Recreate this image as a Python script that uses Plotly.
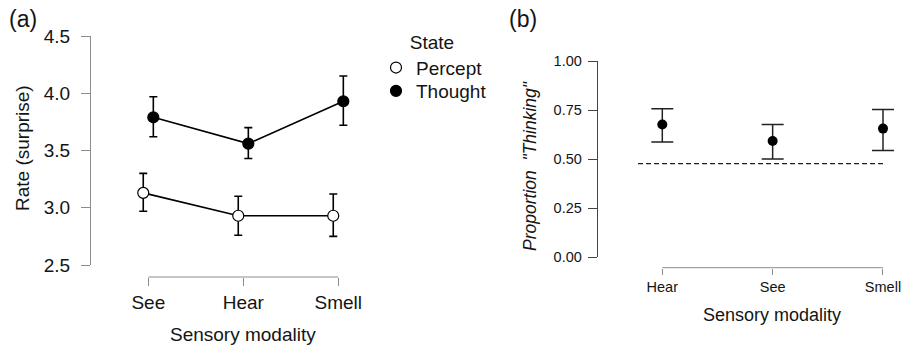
import plotly.graph_objects as go

# ---------------- data ----------------
modality_a = ["See", "Hear", "Smell"]
percept_mean = [3.13, 2.93, 2.93]
percept_lo = [2.97, 2.76, 2.75]
percept_hi = [3.30, 3.10, 3.12]
thought_mean = [3.79, 3.56, 3.93]
thought_lo = [3.62, 3.43, 3.72]
thought_hi = [3.97, 3.70, 4.15]
rate_ticks = [2.5, 3.0, 3.5, 4.0, 4.5]

modality_b = ["Hear", "See", "Smell"]
prop_mean = [0.676, 0.592, 0.655]
prop_lo = [0.587, 0.500, 0.544]
prop_hi = [0.757, 0.676, 0.753]
chance_level = 0.476
prop_ticks = [0.0, 0.25, 0.5, 0.75, 1.0]

# ---------------- helpers ----------------
W, H = 904, 346
FONT = "Liberation Sans, Arial, Helvetica, sans-serif"
TXT = "#141414"
GRAY = "#8c8c8c"


def px(x):
    return x / W


def py(y):
    return 1 - y / H


dodge = 0.053
xa = list(range(len(modality_a)))
xb = list(range(len(modality_b)))

fig = go.Figure()

# Panel (a)
def add_state(name, mean, lo, hi, off, fill, legend_id):
    xs = [i + off for i in xa]
    fig.add_trace(go.Scatter(
        x=xs, y=mean, mode="lines+markers", xaxis="x", yaxis="y",
        showlegend=False,
        line=dict(color="black", width=1.6),
        marker=dict(size=11, color=fill, line=dict(color="black", width=1.2)),
        error_y=dict(type="data", symmetric=False,
                     array=[h - m for h, m in zip(hi, mean)],
                     arrayminus=[m - l for m, l in zip(mean, lo)],
                     color="black", thickness=1.6, width=4),
    ))
    fig.add_trace(go.Scatter(
        x=[None], y=[None], mode="markers", xaxis="x", yaxis="y",
        name=name, showlegend=True, legend=legend_id,
        marker=dict(size=11, color=fill, line=dict(color="black", width=1.2)),
    ))

add_state("Percept", percept_mean, percept_lo, percept_hi, -dodge, "white", "legend")
add_state("Thought", thought_mean, thought_lo, thought_hi, dodge, "black", "legend2")

# Panel (b)
fig.add_trace(go.Scatter(
    x=xb, y=prop_mean, mode="markers", xaxis="x2", yaxis="y2", showlegend=False,
    marker=dict(size=10, color="black"),
    error_y=dict(type="data", symmetric=False,
                 array=[h - m for h, m in zip(prop_hi, prop_mean)],
                 arrayminus=[m - l for m, l in zip(prop_mean, prop_lo)],
                 color="#222", thickness=1.5, width=11),
))

# axes geometry (pixels)
a_x_tick_px = [148.3, 338.3]
a_sp = (a_x_tick_px[1] - a_x_tick_px[0]) / 2
a_range = [-0.6, 2.6]
a_dom = [px(a_x_tick_px[0] + a_range[0] * a_sp), px(a_x_tick_px[0] + a_range[1] * a_sp)]

b_x_tick_px = [662.3, 883.0]
b_sp = (b_x_tick_px[1] - b_x_tick_px[0]) / 2
b_range = [-0.55, 2.18]
b_dom = [px(b_x_tick_px[0] + b_range[0] * b_sp), min(1.0, px(b_x_tick_px[0] + b_range[1] * b_sp))]

a_xpos = py(277)
b_xpos = py(267.7)

axis_common = dict(showgrid=False, zeroline=False, ticks="outside", tickwidth=1,
                   automargin=False)

leg_common = dict(xanchor="left", yanchor="top", bgcolor="rgba(0,0,0,0)",
                  borderwidth=0, itemwidth=30, tracegroupgap=0,
                  font=dict(size=19, color=TXT))

fig.update_layout(
    template="none",
    width=W, height=H, autosize=False,
    margin=dict(l=0, r=0, t=0, b=0, pad=0, autoexpand=False),
    paper_bgcolor="white", plot_bgcolor="white",
    font=dict(family=FONT, color=TXT),
    xaxis=dict(domain=a_dom, range=a_range, anchor="free", position=a_xpos,
               tickvals=xa, ticktext=modality_a, showline=False,
               ticklen=8, tickcolor=GRAY, tickfont=dict(size=19, color=TXT),
               ticklabelstandoff=0, **axis_common),
    yaxis=dict(domain=[py(265), py(36)], range=[rate_ticks[0], rate_ticks[-1]],
               anchor="free", position=px(90), tickvals=rate_ticks, tickformat=".1f",
               showline=True, linecolor=GRAY, linewidth=1,
               ticklen=9, tickcolor=GRAY, tickfont=dict(size=19, color=TXT),
               ticklabelstandoff=7, **axis_common),
    xaxis2=dict(domain=b_dom, range=b_range, anchor="free", position=b_xpos,
                tickvals=xb, ticktext=modality_b, showline=False,
                ticklen=6, tickcolor=GRAY, tickfont=dict(size=14.5, color=TXT),
                ticklabelstandoff=0, **axis_common),
    yaxis2=dict(domain=[py(257), py(61)], range=[prop_ticks[0], prop_ticks[-1]],
                anchor="free", position=px(596.7), tickvals=prop_ticks, tickformat=".2f",
                showline=True, linecolor="#444", linewidth=1,
                ticklen=9, tickcolor="#444", tickfont=dict(size=14.5, color=TXT),
                ticklabelstandoff=3, **axis_common),
    legend=dict(x=px(376), y=py(24),
                title=dict(text="State", side="top center", font=dict(size=19, color=TXT)),
                **leg_common),
    legend2=dict(x=px(376), y=py(72), **leg_common),
    shapes=[
        dict(type="line", xref="x", yref="paper", x0=xa[0], x1=xa[-1],
             y0=a_xpos, y1=a_xpos, line=dict(color=GRAY, width=1)),
        dict(type="line", xref="x2", yref="paper", x0=xb[0], x1=xb[-1],
             y0=b_xpos, y1=b_xpos, line=dict(color=GRAY, width=1)),
        dict(type="line", xref="x2", yref="y2", x0=-0.22, x1=xb[-1],
             y0=chance_level, y1=chance_level,
             line=dict(color="#222", width=1.2, dash="5px,3px")),
    ],
    annotations=[
        dict(text="(a)", x=px(23), y=py(19), font=dict(size=23, color=TXT)),
        dict(text="(b)", x=px(523), y=py(19), font=dict(size=23, color=TXT)),
        dict(text="Rate (surprise)", x=px(22), y=py(148), textangle=-90,
             font=dict(size=19, color=TXT)),
        dict(text="Sensory modality", x=px(243), y=py(334),
             font=dict(size=19, color=TXT)),
        dict(text="<i>Proportion\u00a0\u00a0\"Thinking\"</i>", x=px(530), y=py(166),
             textangle=-90, font=dict(size=17.5, color=TXT)),
        dict(text="Sensory modality", x=px(772), y=py(315),
             font=dict(size=18, color=TXT)),
    ],
)
for ann in fig.layout.annotations:
    ann.update(xref="paper", yref="paper", showarrow=False,
               xanchor="center", yanchor="middle")

fig.write_html("out.html", config={"displayModeBar": False},
               post_script="document.body.style.margin='0';document.body.style.overflow='hidden';")
